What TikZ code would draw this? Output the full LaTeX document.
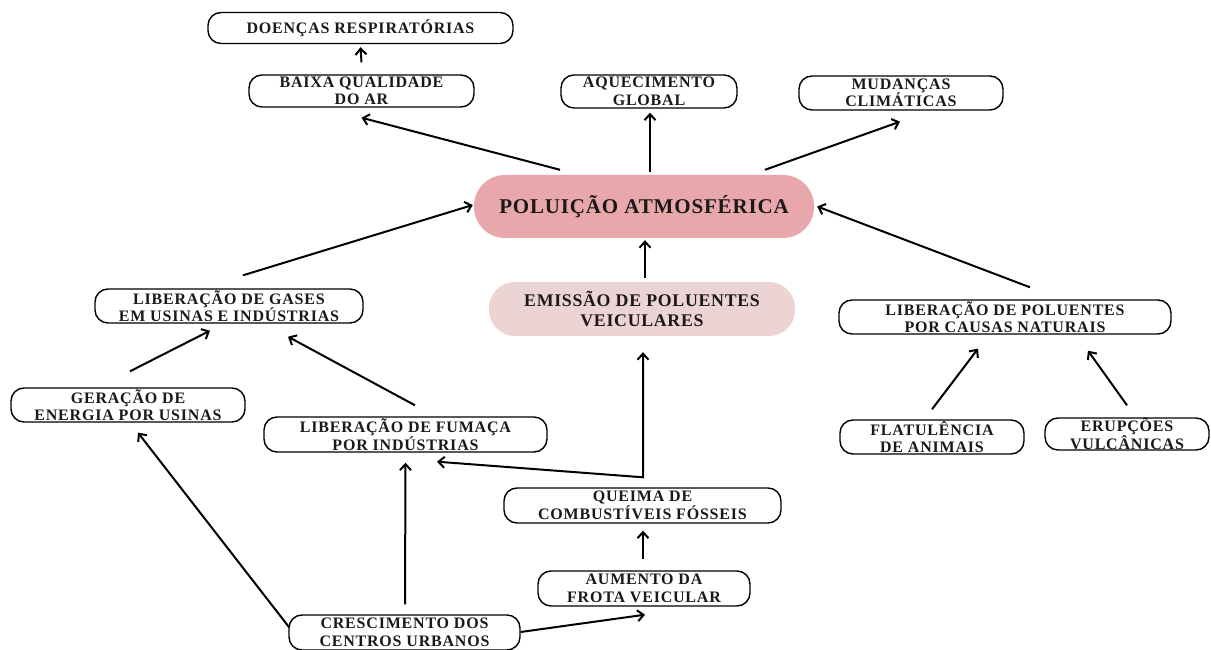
\documentclass[tikz,border=0pt]{standalone}
\usepackage{fontspec}
\setmainfont{Liberation Serif}
\newfontfamily\boxfont{Liberation Serif}[LetterSpace=5]
\newfontfamily\mainfont{Liberation Serif}[LetterSpace=4]
\usetikzlibrary{arrows.meta}
\definecolor{polfill}{RGB}{232,167,170}
\definecolor{emifill}{RGB}{236,212,212}
\definecolor{txt}{RGB}{28,24,24}
\begin{document}
\begin{tikzpicture}[x=1pt,y=1pt,
  cbox/.style={draw=black,line width=1.4pt,rounded corners=13pt,inner sep=0pt,align=center,
    text=txt,font=\boxfont\bfseries\fontsize{16}{17.5}\selectfont},
  bigbox/.style={fill=polfill,rounded corners=31pt,inner sep=0pt,align=center,
    text=txt,font=\mainfont\bfseries\fontsize{21}{24}\selectfont},
  midbox/.style={fill=emifill,rounded corners=26pt,inner sep=0pt,align=center,
    text=txt,font=\mainfont\bfseries\fontsize{17.8}{20}\selectfont},
  arr/.style={line width=2pt,-{Straight Barb[length=6pt,width=11pt]}},
  darr/.style={line width=2pt,{Straight Barb[length=6pt,width=11pt]}-{Straight Barb[length=6pt,width=11pt]}}
]
\useasboundingbox (0,0) rectangle (1211,650);
\fill[white] (0,0) rectangle (1211,650);

\node[cbox,minimum width=305,minimum height=31] (doen) at (360.5,622) {DOENÇAS RESPIRATÓRIAS};
\node[cbox,minimum width=225,minimum height=32] (baixa) at (361.5,559) {BAIXA QUALIDADE\\DO AR};
\node[cbox,minimum width=176,minimum height=33] (aquec) at (649,558.5) {AQUECIMENTO\\GLOBAL};
\node[cbox,minimum width=204,minimum height=34] (mud) at (901,557) {MUDANÇAS\\CLIMÁTICAS};
\node[bigbox,minimum width=340,minimum height=63] (pol) at (644,443.5) {POLUIÇÃO ATMOSFÉRICA};
\node[midbox,minimum width=306,minimum height=54] (emis) at (642,341) {EMISSÃO DE POLUENTES\\VEICULARES};
\node[cbox,minimum width=268,minimum height=34] (gases) at (229,344) {LIBERAÇÃO DE GASES\\EM USINAS E INDÚSTRIAS};
\node[cbox,minimum width=332,minimum height=34] (nat) at (1005,333) {LIBERAÇÃO DE POLUENTES\\POR CAUSAS NATURAIS};
\node[cbox,minimum width=234,minimum height=34] (ger) at (128,245) {GERAÇÃO DE\\ENERGIA POR USINAS};
\node[cbox,minimum width=283,minimum height=35] (fum) at (405.5,215.5) {LIBERAÇÃO DE FUMAÇA\\POR INDÚSTRIAS};
\node[cbox,minimum width=184,minimum height=34] (flat) at (932,213) {FLATULÊNCIA\\DE ANIMAIS};
\node[cbox,minimum width=164,minimum height=32] (eru) at (1127,216) {ERUPÇÕES\\VULCÂNICAS};
\node[cbox,minimum width=277,minimum height=35] (que) at (642.5,144.5) {QUEIMA DE\\COMBUSTÍVEIS FÓSSEIS};
\node[cbox,minimum width=212,minimum height=35] (aum) at (644,61.5) {AUMENTO DA\\FROTA VEICULAR};
\node[cbox,minimum width=231,minimum height=35] (cre) at (404.5,17.5) {CRESCIMENTO DOS\\CENTROS URBANOS};

\coordinate (j) at ([shift={(0.5,10)}]que.north);

\draw[arr] ([yshift=12]baixa.north) -- ([yshift=-3]doen.south);
\draw[arr] ([shift={(-84,5)}]pol.north) -- ([yshift=-10]baixa.south);
\draw[arr] ([shift={(6,3)}]pol.north) -- ([shift={(1,-4)}]aquec.south);
\draw[arr] ([shift={(121,5)}]pol.north) -- ([shift={(-1,-11)}]mud.south);
\draw[arr] ([shift={(14,13)}]gases.north) -- ([shift={(-1,1.5)}]pol.west);
\draw[arr] ([shift={(3,4)}]emis.north) -- ([shift={(1,-2)}]pol.south);
\draw[arr] ([shift={(25,12)}]nat.north) -- ([shift={(3,0)}]pol.east);
\draw[arr] ([shift={(2,16)}]ger.north) -- ([shift={(-19,-7)}]gases.south);
\draw[arr] ([shift={(9.5,11)}]fum.north) -- ([shift={(59,-13)}]gases.south);
\draw[arr] ([shift={(0,10)}]flat.north) -- ([shift={(-27,-14)}]nat.south);
\draw[arr] ([shift={(0,12)}]eru.north) -- ([shift={(83,-16)}]nat.south);
\draw[arr] ([shift={(1,5)}]cre.west) -- ([shift={(10,-10)}]ger.south);
\draw[arr] ([shift={(0.5,10)}]cre.north) -- ([shift={(0,-10)}]fum.south);
\draw[arr] ([shift={(0,0.5)}]cre.east) -- ([shift={(1,-8)}]aum.south);
\draw[arr] ([shift={(-1,11)}]aum.north) -- ([shift={(0.5,-7)}]que.south);
\draw[darr,line join=miter] ([shift={(31.5,-9)}]fum.south) -- (j) -- ([shift={(1,-16)}]emis.south);
\end{tikzpicture}
\end{document}
